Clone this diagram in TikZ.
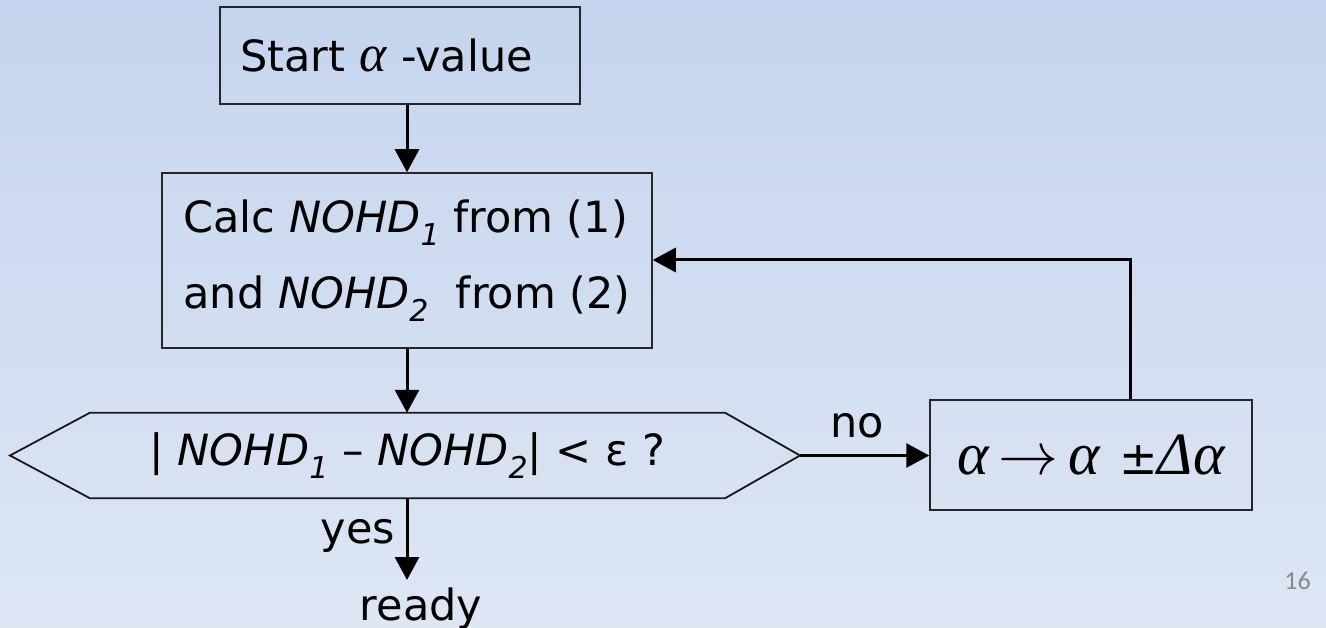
\documentclass[tikz,border=0pt]{standalone}
\usepackage{fix-cm}
\usepackage{fontspec}
\setmainfont{DejaVu Sans}
\newfontfamily\numfont{Carlito}
\newfontfamily\greekf{Liberation Serif}
\usetikzlibrary{arrows.meta}
\definecolor{bgtop}{HTML}{C5D4EE}
\definecolor{bgbot}{HTML}{DEE6F4}
\definecolor{pgnum}{HTML}{8A8A8A}
\newcommand{\galpha}{{\greekf\itshape α}}
\newcommand{\mysub}[1]{\raisebox{-13pt}{\fontsize{30}{30}\selectfont\itshape #1}}
\begin{document}
\begin{tikzpicture}[x=1pt,y=-1pt,
  box/.style={draw=black!85, line width=1.5pt, inner ysep=0pt, font=\fontsize{43}{76}\selectfont, align=left},
  conn/.style={line width=3pt, -{Triangle[length=23pt,width=24pt]}},
  lbl/.style={font=\fontsize{43}{50}\selectfont, inner sep=0pt}]
\shade[top color=bgtop, bottom color=bgbot] (0,0) rectangle (1326,628);
\useasboundingbox (0,0) rectangle (1326,628);
% nodes
\node[box, inner xsep=20pt, text width=320pt, minimum height=97pt] (start) at (400,55.5)
  {Start {\fontsize{52}{52}\selectfont\galpha} -value};
\node[box, inner xsep=0pt, minimum width=490pt, minimum height=175pt] (calc) at (407,260.5)
  {Calc \textit{NOHD}\mysub{1} from (1)\\and \textit{NOHD}\mysub{2}\ \ from (2)};
\node[lbl, minimum width=635pt, minimum height=85pt] (hex) at (407.5,455.5)
  {| \textit{NOHD}\mysub{1} – \textit{NOHD}\mysub{2}| < ε ?};
\coordinate (hexL) at (10,455.5);
\coordinate (hexR) at (800,455.5);
\draw[black!90, line width=1.8pt] (hex.north west) -- (hex.north east) -- (hexR) -- (hex.south east) -- (hex.south west) -- (hexL) -- cycle;
\node[draw=black!85, line width=1.5pt, inner sep=0pt, minimum width=322pt, minimum height=110pt,
      font=\fontsize{60}{60}\selectfont] (abox) at (1091,455)
  {{\greekf\itshape α}\,$\rightarrow$\,{\greekf\itshape α} {\fontsize{46}{46}\selectfont ±}{\greekf\itshape Δα}};
\node[lbl, anchor=base] (lno) at (857,437) {no};
\node[lbl, anchor=base] (lyes) at (358,543) {yes};
\node[lbl, anchor=base] (ready) at (421,620) {ready};
\node[font=\numfont\fontsize{26}{30}\selectfont, text=pgnum, inner sep=0pt, anchor=base east] (pg) at (1311,589) {16};
\coordinate (fb) at (1130,260);
\coordinate (yesend) at (407,580);
% connectors
\draw[conn] (start.south -| calc.north) -- (calc.north);
\draw[conn] (calc.south) -- (calc.south |- hex.north);
\draw[conn] (hexR) -- (abox.west |- hexR);
\draw[conn] (abox.north -| fb) -- (fb) -- (fb -| calc.east);
\draw[conn] (yesend |- hex.south) -- (yesend);
\end{tikzpicture}
\end{document}
